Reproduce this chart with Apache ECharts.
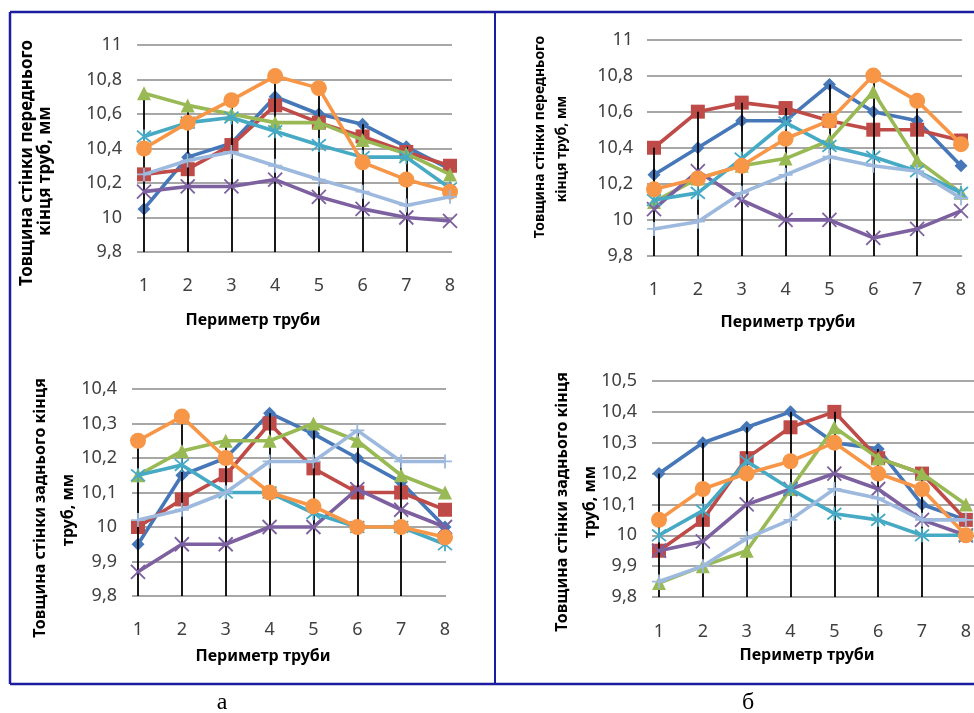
<!DOCTYPE html>
<html>
<head>
<meta charset="utf-8">
<script src="https://cdn.jsdelivr.net/npm/echarts@6/dist/echarts.min.js"></script>
<style>html,body{margin:0;padding:0;background:#fff;}#c{width:974px;height:713px;}</style>
</head>
<body>
<div id="c"></div>
<script>
// ---- data ----
var categories = ['1','2','3','4','5','6','7','8'];
var seriesNames = ['s1','s2','s3','s4','s5','s6','s7'];

// panel а, top (front end)
var aTop_blue   = [10.05,10.35,10.43,10.70,10.60,10.54,10.41,10.28];
var aTop_red    = [10.25,10.28,10.42,10.65,10.55,10.47,10.38,10.30];
var aTop_green  = [10.72,10.65,10.60,10.55,10.55,10.45,10.37,10.25];
var aTop_purple = [10.15,10.18,10.18,10.22,10.12,10.05,10.00,9.98];
var aTop_teal   = [10.47,10.55,10.58,10.50,10.42,10.35,10.35,10.17];
var aTop_orange = [10.40,10.55,10.68,10.82,10.75,10.32,10.22,10.15];
var aTop_light  = [10.25,10.33,10.38,10.30,10.22,10.15,10.07,10.12];

// panel б, top (front end)
var bTop_blue   = [10.25,10.40,10.55,10.55,10.75,10.60,10.55,10.30];
var bTop_red    = [10.40,10.60,10.65,10.62,10.55,10.50,10.50,10.44];
var bTop_green  = [10.10,10.23,10.30,10.34,10.44,10.71,10.33,10.15];
var bTop_purple = [10.06,10.27,10.11,10.00,10.00,9.90,9.95,10.05];
var bTop_teal   = [10.11,10.15,10.34,10.54,10.41,10.35,10.27,10.15];
var bTop_orange = [10.17,10.23,10.30,10.45,10.55,10.80,10.66,10.42];
var bTop_light  = [9.95,9.99,10.15,10.25,10.35,10.30,10.27,10.12];

// panel а, bottom (rear end)
var aBot_blue   = [9.95,10.15,10.20,10.33,10.27,10.20,10.13,10.00];
var aBot_red    = [10.00,10.08,10.15,10.30,10.17,10.10,10.10,10.05];
var aBot_green  = [10.15,10.22,10.25,10.25,10.30,10.25,10.15,10.10];
var aBot_purple = [9.87,9.95,9.95,10.00,10.00,10.11,10.05,10.00];
var aBot_teal   = [10.15,10.18,10.10,10.10,10.04,10.00,10.00,9.95];
var aBot_orange = [10.25,10.32,10.20,10.10,10.06,10.00,10.00,9.97];
var aBot_light  = [10.02,10.05,10.10,10.19,10.19,10.28,10.19,10.19];

// panel б, bottom (rear end)
var bBot_blue   = [10.20,10.30,10.35,10.40,10.30,10.28,10.10,10.05];
var bBot_red    = [9.95,10.05,10.25,10.35,10.40,10.25,10.20,10.05];
var bBot_green  = [9.845,9.90,9.95,10.15,10.35,10.25,10.20,10.10];
var bBot_purple = [9.95,9.98,10.10,10.15,10.20,10.15,10.05,10.00];
var bBot_teal   = [10.00,10.08,10.24,10.15,10.07,10.05,10.00,10.00];
var bBot_orange = [10.05,10.15,10.20,10.24,10.30,10.20,10.15,10.00];
var bBot_light  = [9.85,9.90,9.99,10.05,10.15,10.12,10.05,10.05];

var yTitleTop1 = 'Товщина стінки переднього';
var yTitleTop2 = 'кінця труб, мм';
var yTitleBot1 = 'Товщина стінки заднього кінця';
var yTitleBot2 = 'труб, мм';
var xTitle = 'Периметр труби';
var panelLetters = ['а','б'];

// ---- styling ----
var colors = ['#4677B8','#BE4B48','#98B954','#7D60A0','#46AAC5','#F79646','#9DB9DE'];
var X_PATH = 'path://M0,0L10,10M10,0L0,10';
var STAR_PATH = 'path://M0,0L10,10M10,0L0,10M5,-1L5,11';
var PLUS_PATH = 'path://M5,0L5,10M0,5L10,5';
var symbols = ['diamond','rect','triangle',X_PATH,STAR_PATH,'circle',PLUS_PATH];
var symSizes = [13,14,14,14,14,16,14];

var panels = [
  {data:[aTop_blue,aTop_red,aTop_green,aTop_purple,aTop_teal,aTop_orange,aTop_light],
   min:9.8,max:11,interval:0.2, dL:144,dR:450,top:45,bot:252,bgL:137,bgR:452,yMargin:15,xMargin:25},
  {data:[bTop_blue,bTop_red,bTop_green,bTop_purple,bTop_teal,bTop_orange,bTop_light],
   min:9.8,max:11,interval:0.2, dL:654,dR:961,top:39.5,bot:256,bgL:647,bgR:962,yMargin:14,xMargin:25},
  {data:[aBot_blue,aBot_red,aBot_green,aBot_purple,aBot_teal,aBot_orange,aBot_light],
   min:9.8,max:10.4,interval:0.1, dL:138,dR:445,top:389,bot:596,bgL:132,bgR:446,yMargin:15,xMargin:25},
  {data:[bBot_blue,bBot_red,bBot_green,bBot_purple,bBot_teal,bBot_orange,bBot_light],
   min:9.8,max:10.5,interval:0.1, dL:659,dR:967,top:381,bot:597,bgL:652,bgR:974,yMargin:15,xMargin:26}
];

var FONT = '"Noto Sans", "Open Sans", sans-serif';
var grids = [], xAxes = [], yAxes = [], series = [];
function fmt(v){ return (Math.round(v*10)/10).toString().replace('.', ','); }

panels.forEach(function(p, pi){
  grids.push({left:p.dL, top:p.top, width:p.dR-p.dL, height:p.bot-p.top, containLabel:false});
  xAxes.push({type:'category', gridIndex:pi, data:categories, boundaryGap:false,
    axisLine:{show:false}, axisTick:{show:false}, splitLine:{show:false},
    axisLabel:{margin:p.xMargin, fontSize:18, color:'#404040', fontFamily:FONT}});
  yAxes.push({type:'value', gridIndex:pi, min:p.min, max:p.max, interval:p.interval, show:false,
    splitLine:{show:false}});
});
panels.forEach(function(p, pi){
  var gi = 4 + pi;
  grids.push({left:p.bgL, top:p.top, width:p.bgR-p.bgL, height:p.bot-p.top, containLabel:false});
  xAxes.push({type:'category', gridIndex:gi, data:categories, show:false});
  yAxes.push({type:'value', gridIndex:gi, min:p.min, max:p.max, interval:p.interval,
    axisLine:{show:false}, axisTick:{show:false},
    splitLine:{show:true, lineStyle:{color:'#8a8a8a', width:1.5}},
    axisLabel:{margin:p.yMargin, fontSize:18, color:'#404040', fontFamily:FONT, formatter:fmt}});
});

panels.forEach(function(p, pi){
  p.data.forEach(function(arr, si){
    series.push({type:'line', name:seriesNames[si], xAxisIndex:pi, yAxisIndex:pi, data:arr,
      symbol:symbols[si], symbolSize:symSizes[si], showAllSymbol:true,
      lineStyle:{color:colors[si], width:3.6},
      itemStyle:{color:colors[si], borderColor:colors[si], borderWidth:(si===3||si===4||si===6)?1.8:0},
      z:3+si, animation:false});
  });
  var maxes = categories.map(function(c, ci){
    return Math.max.apply(null, p.data.map(function(a){ return a[ci]; }));
  });
  var ml = [];
  for (var ci = 0; ci < categories.length - 1; ci++) {
    ml.push([{coord:[categories[ci], p.min]}, {coord:[categories[ci], maxes[ci]]}]);
  }
  series.push({type:'line', xAxisIndex:pi, yAxisIndex:pi, data:maxes, showSymbol:false,
    lineStyle:{opacity:0}, silent:true, z:20, animation:false,
    markLine:{silent:true, symbol:['none','none'], label:{show:false},
      lineStyle:{color:'#000', width:1.8, type:'solid'}, data:ml, animation:false}});
});

var BLUE = '#1c1ca0';
var titleStyle = function(txt, x, y, size, rot){
  return {type:'text', x:x, y:y, rotation:rot||0, z:50,
    style:{text:txt, font:'bold '+size+'px '+FONT, fill:'#000', align:'center', verticalAlign:'middle'}};
};
var graphics = [
  {type:'line', shape:{x1:10,y1:12,x2:974,y2:12}, style:{stroke:BLUE, lineWidth:2.5}, z:60},
  {type:'line', shape:{x1:10,y1:12,x2:10,y2:684}, style:{stroke:BLUE, lineWidth:2.5}, z:60},
  {type:'line', shape:{x1:495,y1:12,x2:495,y2:684}, style:{stroke:BLUE, lineWidth:2}, z:60},
  {type:'line', shape:{x1:10,y1:684,x2:974,y2:684}, style:{stroke:BLUE, lineWidth:2.5}, z:60},
  titleStyle(yTitleTop1, 27, 163, 17, Math.PI/2),
  titleStyle(yTitleTop2, 45, 171, 17, Math.PI/2),
  titleStyle(yTitleTop1, 540, 137, 14, Math.PI/2),
  titleStyle(yTitleTop2, 562, 149, 14, Math.PI/2),
  titleStyle(yTitleBot1, 40, 508, 16, Math.PI/2),
  titleStyle(yTitleBot2, 68, 510, 16, Math.PI/2),
  titleStyle(yTitleBot1, 562, 502, 16, Math.PI/2),
  titleStyle(yTitleBot2, 590, 502, 16, Math.PI/2),
  titleStyle(xTitle, 253, 320, 16),
  titleStyle(xTitle, 788, 322, 16),
  titleStyle(xTitle, 263, 656, 16),
  titleStyle(xTitle, 807, 655, 16),
  {type:'text', x:222, y:703, z:50, style:{text:panelLetters[0], font:'24px "Liberation Serif", serif', fill:'#000', align:'center', verticalAlign:'middle'}},
  {type:'text', x:748, y:703, z:50, style:{text:panelLetters[1], font:'24px "Liberation Serif", serif', fill:'#000', align:'center', verticalAlign:'middle'}}
];

var chart = echarts.init(document.getElementById('c'), null, {renderer:'canvas'});
chart.setOption({
  animation:false,
  backgroundColor:'#fff',
  grid:grids, xAxis:xAxes, yAxis:yAxes, series:series, graphic:graphics
});
</script>
</body>
</html>
